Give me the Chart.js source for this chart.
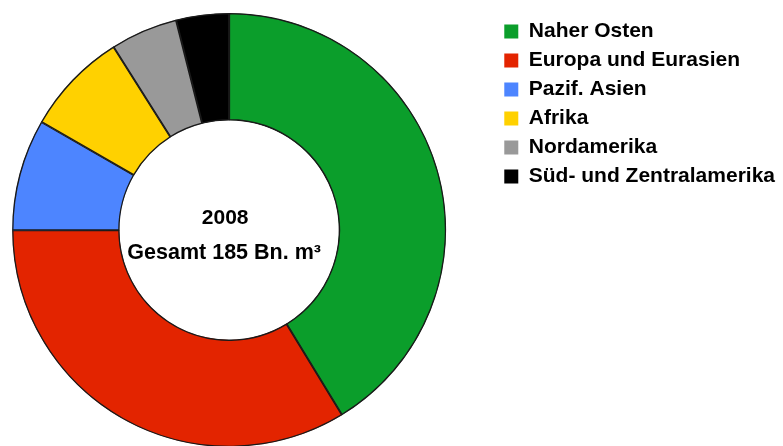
<!DOCTYPE html>
<html>
<head>
<meta charset="utf-8">
<script src="https://cdn.jsdelivr.net/npm/chart.js@4/dist/chart.umd.min.js"></script>
<style>
  html, body { margin: 0; padding: 0; background: #fff; overflow: hidden; }
  #wrap { position: relative; width: 860px; height: 460px; margin-left: -38px; }
</style>
</head>
<body>
<div id="wrap"><canvas id="gasChart"></canvas></div>
<script>
// Erdgasreserven nach Region, 2008 (Bn. m3)
const regions = ["Naher Osten", "Europa und Eurasien", "Pazif. Asien", "Afrika", "Nordamerika", "Süd- und Zentralamerika"];
const reserves = [76.4, 62.4, 15.4, 14.3, 9.3, 7.3];
const centerLines = ["2008", "Gesamt 185 Bn. m³"];

const colors = {
    green: "#0b9e2b",
    red: "#e32400",
    blue: "#4d85ff",
    yellow: "#ffd100",
    gray: "#999999",
    black: "#000000",
};

Chart.defaults.font.family = "'Liberation Sans', Arial, sans-serif";
Chart.defaults.color = "#000";

// text in the hole of the doughnut
const centerText = {
    id: "centerText",
    afterDatasetsDraw(chart) {
        const arc = chart.getDatasetMeta(0).data[0];
        const ctx = chart.ctx;
        ctx.save();
        ctx.fillStyle = "#000";
        ctx.textAlign = "center";
        ctx.textBaseline = "middle";
        ctx.font = "bold 21px 'Liberation Sans', Arial, sans-serif";
        ctx.fillText(centerLines[0], arc.x - 4, arc.y - 12);
        ctx.font = "bold 21.5px 'Liberation Sans', Arial, sans-serif";
        ctx.fillText(centerLines[1], arc.x - 5, arc.y + 23);
        ctx.restore();
    },
};

const ctx = document.getElementById("gasChart").getContext("2d");
new Chart(ctx, {
    type: "doughnut",
    data: {
        labels: regions,
        datasets: [
            {
                data: reserves,
                backgroundColor: [colors.green, colors.red, colors.blue, colors.yellow, colors.gray, colors.black],
                borderColor: "#1a1a1a",
                borderWidth: 1,
                borderAlign: "inner",
            },
        ],
    },
    options: {
        responsive: true,
        maintainAspectRatio: false,
        animation: false,
        cutout: "50.5%",
        layout: {
            padding: { left: 0, top: 13, bottom: 13, right: 37 },
        },
        plugins: {
            tooltip: { enabled: false },
            legend: {
                position: "right",
                align: "start",
                labels: {
                    boxWidth: 14,
                    boxHeight: 14,
                    padding: 8,
                    color: "#000",
                    font: { size: 21, weight: "bold" },
                    generateLabels(chart) {
                        const items = Chart.overrides.doughnut.plugins.legend.labels.generateLabels(chart);
                        items.forEach((item) => {
                            item.lineWidth = 0;
                            item.strokeStyle = item.fillStyle;
                        });
                        return items;
                    },
                },
            },
        },
    },
    plugins: [centerText],
});
</script>
</body>
</html>
